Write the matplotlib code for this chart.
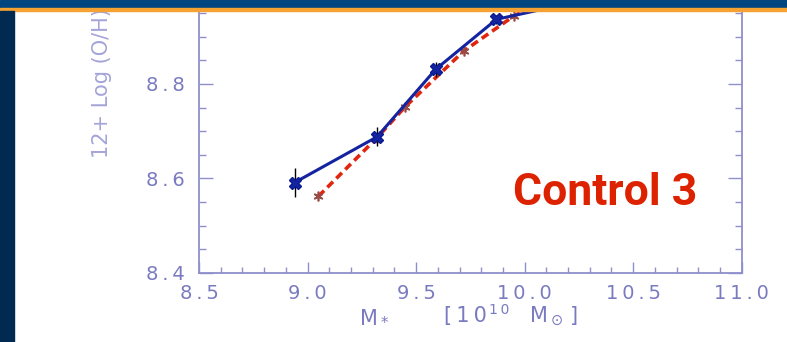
import matplotlib.pyplot as plt
from matplotlib.patches import Rectangle
from matplotlib.ticker import MultipleLocator, FuncFormatter

# oxygen abundance vs stellar mass, two runs
mass_a = [8.94, 9.32, 9.59, 9.87, 10.40]
oh_a = [8.591, 8.688, 8.831, 8.937, 8.99]
err_a = [0.030, 0.020, 0.016, 0.010, 0.010]

mass_b = [9.05, 9.32, 9.45, 9.72, 9.95, 10.20]
oh_b = [8.562, 8.686, 8.752, 8.870, 8.944, 9.00]

axis_col = "#8f8fcc"
label_col = "#7a7ac0"
thin = "\u2009"

fig = plt.figure(figsize=(7.87, 3.42), dpi=100)
fig.patch.set_facecolor("white")

# axes runs up past the top edge, the header bar covers it
ax = fig.add_axes([0.2529, 0.2026, 0.6896, 0.8968])
ax.set_xlim(8.5, 11.0)
ax.set_ylim(8.4, 9.05)

ax.plot(mass_b, oh_b, color="#e0260f", lw=2.6, dashes=(2.2, 1.3), zorder=2)
ax.plot(mass_b, oh_b, ls="none", marker=(6, 2, 0), ms=7, mew=1.2,
        color="#9a4a44", zorder=3)

ax.errorbar(mass_a, oh_a, yerr=err_a, color="#1424a0", lw=2.2,
            marker="X", ms=8, mec="#0a1a90", ecolor="black", elinewidth=1,
            capsize=0, zorder=4)

ax.text(10.37, 8.543, "Control 3", color="#dd2200", fontsize=32,
        fontweight="bold", family="Roboto", ha="center", va="baseline")

for side in ["left", "bottom", "right"]:
    ax.spines[side].set_color(axis_col)
    ax.spines[side].set_linewidth(1.3)
ax.spines["top"].set_visible(False)

ax.xaxis.set_major_locator(MultipleLocator(0.5))
ax.xaxis.set_minor_locator(MultipleLocator(0.1))
ax.yaxis.set_major_locator(MultipleLocator(0.2))
ax.yaxis.set_minor_locator(MultipleLocator(0.05))


def spaced_x(v, pos):
    return thin.join(f"{v:.1f}")


def spaced_y(v, pos):
    # labels under the header bar are left out
    if v > 8.85:
        return ""
    return thin.join(f"{v:.1f}")


ax.xaxis.set_major_formatter(FuncFormatter(spaced_x))
ax.yaxis.set_major_formatter(FuncFormatter(spaced_y))

ax.tick_params(which="both", direction="in", right=True, top=False,
               color=axis_col, width=1.0, labelcolor=label_col, labelsize=14)
ax.tick_params(axis="x", which="major", length=8, pad=8)
ax.tick_params(axis="x", which="minor", length=4)
ax.tick_params(axis="y", which="major", length=10, pad=10)
ax.tick_params(axis="y", which="minor", length=5)

# x axis title in pieces, spread out
ybase = -0.162
ax.text(0.3225, ybase, r"M$_*$", color=label_col, fontsize=15,
        ha="center", va="baseline", transform=ax.transAxes)
ax.text(0.4505, ybase, "[" + thin + "1" + thin + "0", color=label_col,
        fontsize=15, ha="left", va="baseline", transform=ax.transAxes)
ax.text(0.5345, ybase + 0.027, "1" + thin + "0", color=label_col,
        fontsize=10, ha="left", va="baseline", transform=ax.transAxes)
ax.text(0.6985, ybase, r"M$_\odot$" + thin + "]", color=label_col,
        fontsize=15, ha="right", va="baseline", transform=ax.transAxes)

fig.text(0.130, 0.758, "12+ Log (O/H)", rotation=90, color="#a4a4d8",
         fontsize=15, ha="center", va="center")

# slide frame: header bar and left strip
fig.patches.append(Rectangle((0, 1 - 8.3 / 342), 1, 8.3 / 342,
                             transform=fig.transFigure, color="#00467e",
                             zorder=10))
fig.patches.append(Rectangle((0, 1 - 11 / 342), 1, 2.7 / 342,
                             transform=fig.transFigure, color="#f5a232",
                             zorder=10))
fig.patches.append(Rectangle((0, 0), 14 / 787, 1 - 11 / 342,
                             transform=fig.transFigure, color="#002a4f",
                             zorder=10))

fig.savefig("out.png", dpi=100)
